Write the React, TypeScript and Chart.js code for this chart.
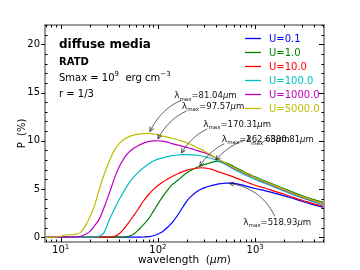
import React, { useEffect, useRef } from 'react';
import { Chart, registerables } from 'chart.js';
Chart.register(...registerables);

const wavelengths = [7, 8, 9, 10, 11, 12, 13, 14, 15, 16, 18, 20, 22, 25, 28, 32, 36, 40, 45, 50, 56, 63, 71, 80, 90, 100, 112, 125, 140, 160, 180, 200, 225, 250, 280, 315, 355, 400, 450, 500, 560, 630, 710, 800, 900, 1000, 1250, 1600, 2000, 2500, 3200, 4000, 5300];

const seriesLabels = ['U=0.1', 'U=1.0', 'U=10.0', 'U=100.0', 'U=1000.0', 'U=5000.0'];
const seriesColors = ['#0000ff', '#008000', '#ff0000', '#00bfbf', '#bf00bf', '#bfbf00'];

const pU01 = [0, 0, 0, 0, 0, 0, 0, 0, 0, 0, 0, 0, 0, 0, 0, 0, 0, 0, 0, 0, 0, 0, 0.02, 0.06, 0.15, 0.33, 0.6, 1.0, 1.5, 2.3, 3.1, 3.8, 4.33, 4.7, 5.0, 5.2, 5.35, 5.48, 5.56, 5.6, 5.6, 5.55, 5.45, 5.3, 5.17, 5.05, 4.82, 4.55, 4.28, 3.98, 3.65, 3.35, 3.05];
const pU1 = [0, 0, 0, 0, 0, 0, 0, 0, 0, 0, 0, 0, 0, 0, 0, 0, 0, 0, 0.02, 0.08, 0.3, 0.75, 1.3, 1.9, 2.7, 3.45, 4.2, 4.85, 5.45, 5.9, 6.35, 6.7, 7.0, 7.22, 7.4, 7.58, 7.76, 7.85, 7.8, 7.7, 7.5, 7.22, 6.95, 6.68, 6.45, 6.25, 5.85, 5.4, 5.01, 4.62, 4.22, 3.9, 3.55];
const pU10 = [0, 0, 0, 0, 0, 0, 0, 0, 0, 0, 0, 0, 0, 0, 0, 0.02, 0.08, 0.35, 0.9, 1.5, 2.2, 2.95, 3.75, 4.4, 4.95, 5.35, 5.72, 6.02, 6.3, 6.58, 6.8, 6.95, 7.07, 7.15, 7.2, 7.15, 7.05, 6.85, 6.68, 6.52, 6.35, 6.15, 5.95, 5.75, 5.55, 5.38, 5.1, 4.75, 4.45, 4.1, 3.75, 3.45, 3.15];
const pU100 = [0, 0, 0, 0, 0, 0, 0, 0, 0, 0, 0, 0, 0.02, 0.12, 0.5, 1.9, 3.0, 3.9, 4.8, 5.55, 6.2, 6.75, 7.2, 7.6, 7.9, 8.1, 8.22, 8.35, 8.45, 8.52, 8.55, 8.55, 8.53, 8.5, 8.42, 8.3, 8.18, 7.98, 7.75, 7.5, 7.22, 6.95, 6.68, 6.42, 6.19, 5.99, 5.59, 5.15, 4.77, 4.39, 4.0, 3.66, 3.3];
const pU1000 = [0, 0, 0, 0, 0, 0.01, 0.02, 0.03, 0.05, 0.08, 0.3, 0.6, 1.1, 1.9, 3.1, 4.7, 6.2, 7.3, 8.2, 8.8, 9.2, 9.5, 9.75, 9.9, 9.98, 10.0, 9.95, 9.85, 9.7, 9.55, 9.42, 9.3, 9.15, 9.0, 8.85, 8.68, 8.45, 8.17, 7.88, 7.62, 7.36, 7.08, 6.82, 6.56, 6.33, 6.13, 5.72, 5.27, 4.88, 4.48, 4.08, 3.75, 3.4];
const pU5000 = [0, 0, 0.02, 0.1, 0.2, 0.25, 0.27, 0.3, 0.35, 0.5, 1.2, 2.1, 3.1, 5.0, 6.5, 8.0, 9.1, 9.7, 10.15, 10.4, 10.58, 10.68, 10.74, 10.77, 10.72, 10.6, 10.48, 10.38, 10.26, 10.1, 9.93, 9.76, 9.55, 9.32, 9.08, 8.8, 8.5, 8.2, 7.92, 7.66, 7.4, 7.12, 6.86, 6.6, 6.37, 6.17, 5.77, 5.32, 4.93, 4.53, 4.13, 3.8, 3.45];
const seriesValues = [pU01, pU1, pU10, pU100, pU1000, pU5000];

const yTicks = [0, 5, 10, 15, 20];
const xTickExponents = [1, 2, 3];

// peak annotations: text, target (wavelength, P)
const peakLabels = ['518.93', '380.81', '262.68', '170.31', '97.57', '81.04'];
const peakWavelengths = [518.93, 380.81, 262.68, 170.31, 97.57, 81.04];
const peakValues = [5.6, 7.85, 7.2, 8.55, 10.0, 10.77];

// layout of the annotation texts (left edge wavelength, vertical centre P)
const labelAnchors = [[753, 1.6], [803, 10.15], [454, 10.25], [292, 11.8], [176, 13.65], [146.8, 14.75]];

const FONT = '"DejaVu Sans", sans-serif';

type Seg = { t: string; size: number; dy?: number; weight?: string; style?: string };
const segFont = (s: Seg) => `${s.style || 'normal'} ${s.weight || 'normal'} ${s.size}px ${FONT}`;
function richWidth(ctx: CanvasRenderingContext2D, segs: Seg[]) {
  let w = 0;
  for (const s of segs) { ctx.font = segFont(s); w += ctx.measureText(s.t).width; }
  return w;
}
function drawRich(ctx: CanvasRenderingContext2D, segs: Seg[], x: number, base: number, color: string) {
  ctx.fillStyle = color; ctx.textAlign = 'left'; ctx.textBaseline = 'alphabetic';
  let cx = x;
  for (const s of segs) {
    ctx.font = segFont(s);
    ctx.fillText(s.t, cx, base + (s.dy || 0));
    cx += ctx.measureText(s.t).width;
  }
  return cx - x;
}

function drawArrow(ctx: CanvasRenderingContext2D, sx: number, sy: number, ex: number, ey: number, box: any, rad: number) {
  const mx = (sx + ex) / 2, my = (sy + ey) / 2, dx = ex - sx, dy = ey - sy;
  const cx = mx - rad * dy, cy = my + rad * dx;
  const q = (t: number) => [(1 - t) ** 2 * sx + 2 * t * (1 - t) * cx + t * t * ex, (1 - t) ** 2 * sy + 2 * t * (1 - t) * cy + t * t * ey];
  let t0 = 0;
  for (let t = 0; t <= 1; t += 0.002) {
    const [x, y] = q(t);
    if (x < box.x0 || x > box.x1 || y < box.y0 || y > box.y1) { t0 = t; break; }
  }
  let t1 = 1;
  for (let t = 1; t > 0; t -= 0.002) {
    const [x, y] = q(t);
    if (Math.hypot(x - ex, y - ey) >= 2) { t1 = t; break; }
  }
  ctx.beginPath();
  for (let t = t0; t <= t1 + 1e-9; t += (t1 - t0) / 60) {
    const [x, y] = q(t);
    if (t === t0) ctx.moveTo(x, y); else ctx.lineTo(x, y);
  }
  ctx.stroke();
  const [hx, hy] = q(t1);
  const ddx = 2 * (1 - t1) * (cx - sx) + 2 * t1 * (ex - cx);
  const ddy = 2 * (1 - t1) * (cy - sy) + 2 * t1 * (ey - cy);
  const ang = Math.atan2(ddy, ddx);
  const L = 5, w = 0.45;
  ctx.beginPath();
  ctx.moveTo(hx - L * Math.cos(ang - w), hy - L * Math.sin(ang - w));
  ctx.lineTo(hx, hy);
  ctx.lineTo(hx - L * Math.cos(ang + w), hy - L * Math.sin(ang + w));
  ctx.stroke();
}

const overlay = {
  id: 'overlay',
  afterDraw(chart: any) {
    const { ctx, chartArea: a, scales } = chart;
    const xs = scales.x, ys = scales.y;
    ctx.save();
    // spines
    ctx.strokeStyle = '#999'; ctx.lineWidth = 2;
    ctx.strokeRect(a.left, a.top, a.right - a.left, a.bottom - a.top);
    // ticks
    ctx.strokeStyle = '#000'; ctx.lineWidth = 1;
    const line = (x1: number, y1: number, x2: number, y2: number) => { ctx.beginPath(); ctx.moveTo(x1, y1); ctx.lineTo(x2, y2); ctx.stroke(); };
    for (let v = 0; v <= 22; v++) {
      const y = Math.round(ys.getPixelForValue(v)) + 0.5;
      if (yTicks.includes(v)) { line(a.left - 4, y, a.left, y); line(a.right - 5, y, a.right, y); }
      else { line(a.left, y, a.left + 2.5, y); line(a.right - 2.5, y, a.right, y); }
    }
    for (let e = 0; e <= 3; e++) for (let m = 1; m <= 9; m++) {
      const v = m * 10 ** e;
      if (v < xs.min || v > xs.max) continue;
      const x = Math.round(xs.getPixelForValue(v)) + 0.5;
      const len = m === 1 ? 4 : 2.5;
      line(x, a.bottom, x, a.bottom - len); line(x, a.top, x, a.top + len);
    }
    // x tick labels
    for (const e of xTickExponents) {
      const segs: Seg[] = [{ t: '10', size: 10 }, { t: String(e), size: 7, dy: -4.5 }];
      const w = richWidth(ctx, segs);
      drawRich(ctx, segs, xs.getPixelForValue(10 ** e) - w / 2, 253.3, '#000');
    }
    // axis titles
    const xt: Seg[] = [{ t: 'wavelength  (', size: 10.5 }, { t: 'μm', size: 10.5, style: 'italic' }, { t: ')', size: 10.5 }];
    const xw = richWidth(ctx, xt);
    drawRich(ctx, xt, (a.left + a.right) / 2 - xw / 2, 262.5, '#000');
    ctx.save();
    ctx.translate(22.5, (a.top + a.bottom) / 2);
    ctx.rotate(-Math.PI / 2);
    ctx.font = `10px ${FONT}`; ctx.fillStyle = '#000'; ctx.textAlign = 'center'; ctx.textBaseline = 'middle';
    ctx.fillText('P  (%)', 0, 0);
    ctx.restore();
    // text block
    drawRich(ctx, [{ t: 'diffuse media', size: 12, weight: 'bold' }], 59, 48.3, '#000');
    drawRich(ctx, [{ t: 'RATD', size: 10, weight: 'bold' }], 59, 65, '#000');
    drawRich(ctx, [{ t: 'Smax = 10', size: 10 }, { t: '9', size: 7, dy: -4.5 }, { t: '  erg cm', size: 10 }, { t: '−3', size: 7, dy: -4.5 }], 59, 80.5, '#000');
    drawRich(ctx, [{ t: 'r = 1/3', size: 10 }], 59, 97, '#000');
    // legend
    seriesLabels.forEach((lab, i) => {
      const y = 38.5 + i * 14;
      ctx.strokeStyle = seriesColors[i]; ctx.lineWidth = 1.3;
      line(245, y, 261, y);
      drawRich(ctx, [{ t: lab, size: 10 }], 269, y + 3.6, seriesColors[i]);
    });
    // peak annotations
    ctx.strokeStyle = '#222'; ctx.lineWidth = 0.8;
    peakLabels.forEach((lab, i) => {
      const tx = xs.getPixelForValue(labelAnchors[i][0]);
      const ty = ys.getPixelForValue(labelAnchors[i][1]);
      const segs: Seg[] = [{ t: 'λ', size: 9 }, { t: 'max', size: 5.5, dy: 2.5 }, { t: '=' + lab, size: 8.5 }, { t: 'μ', size: 8.5, style: 'italic' }, { t: 'm', size: 8.5 }];
      const w = richWidth(ctx, segs);
      drawRich(ctx, segs, tx, ty + 3.2, '#111');
      const box = { x0: tx - 1, x1: tx + w + 1, y0: ty - 5.5, y1: ty + 5.5 };
      const ex = xs.getPixelForValue(peakWavelengths[i]);
      const ey = ys.getPixelForValue(peakValues[i]);
      drawArrow(ctx, tx + w / 2, ty, ex, ey, box, 0.3);
    });
    ctx.restore();
  },
};

export default function App() {
  const ref = useRef<HTMLCanvasElement>(null);
  useEffect(() => {
    if (!ref.current) return;
    const chart = new Chart(ref.current, {
      type: 'line',
      data: {
        datasets: seriesLabels.map((lab, i) => ({
          label: lab,
          data: wavelengths.map((w, j) => ({ x: w, y: seriesValues[i][j] })),
          borderColor: seriesColors[i],
          backgroundColor: seriesColors[i],
          borderWidth: 1.2,
          pointRadius: 0,
          fill: false,
          cubicInterpolationMode: 'monotone',
          order: 5 - i,
        })),
      },
      options: {
        animation: false,
        responsive: false,
        layout: { padding: { top: 25, right: 36, bottom: 28, left: 0 } },
        plugins: { legend: { display: false }, tooltip: { enabled: false } },
        scales: {
          x: { type: 'logarithmic', min: 6.9, max: 5100, display: false },
          y: {
            type: 'linear', min: -0.5, max: 22,
            afterFit: (s: any) => { s.width = 45; },
            afterBuildTicks: (s: any) => { s.ticks = yTicks.map((v) => ({ value: v })); },
            grid: { display: false, drawTicks: false },
            border: { display: false },
            ticks: { font: { family: FONT, size: 10 }, color: '#000', padding: 5 },
          },
        },
      } as any,
      plugins: [overlay],
    });
    return () => chart.destroy();
  }, []);
  return (
    <div style={{ position: 'fixed', left: 0, top: 0, width: 360, height: 270, background: '#fff' }}>
      <canvas ref={ref} width={360} height={270} />
    </div>
  );
}
